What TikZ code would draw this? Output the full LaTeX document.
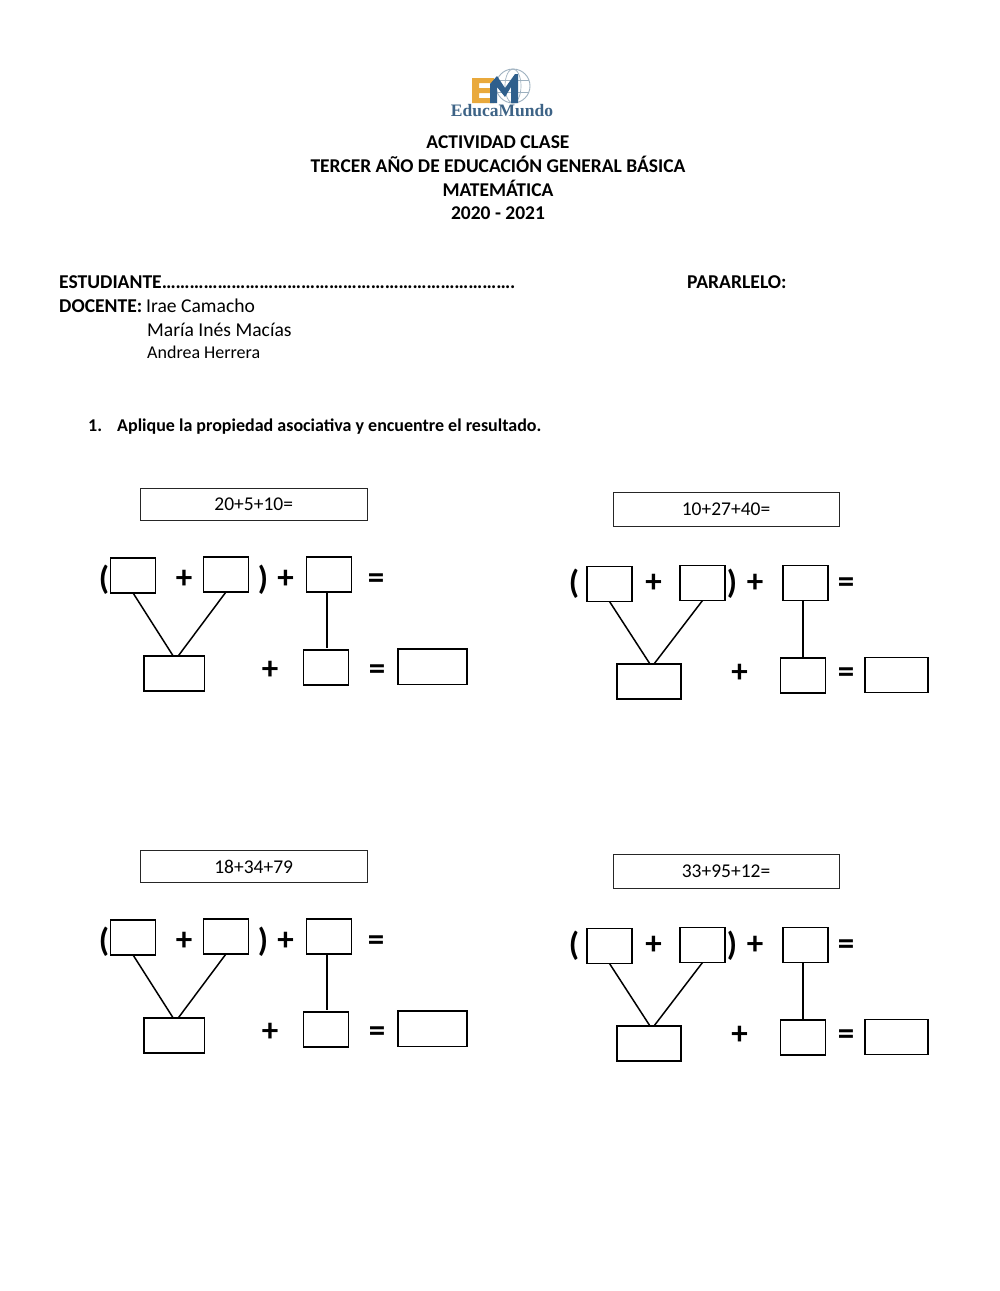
\documentclass[tikz,border=0pt]{standalone}
\usepackage{fontspec}
\setmainfont{Carlito}
\usetikzlibrary{calc}
\definecolor{logoE}{HTML}{E9A93C}
\definecolor{logoM}{HTML}{2F5F8C}
\definecolor{logoT}{HTML}{3D6386}
\definecolor{logoG}{HTML}{9DB0BF}
\tikzset{
  x=1pt,y=-1pt,
  answer/.style={draw=black,line width=1.5pt,fill=white,inner sep=0pt,outer sep=0pt},
  titlebox/.style={draw=black!85,line width=1pt,fill=white,inner sep=0pt,outer sep=0pt,font=\fontsize{19.5}{22}\selectfont},
  link/.style={draw=black,line width=1.5pt},
  sym/.style={inner sep=0pt,font=\bfseries\fontsize{33}{36}\selectfont},
  plussym/.style={sym,yshift=-2pt},
  eqsym/.style={sym,yshift=-4pt},
  parsym/.style={sym,yshift=-3pt},
  head/.style={anchor=base,inner sep=0pt,font=\bfseries\fontsize{19.5}{22}\selectfont},
  info/.style={anchor=base west,inner sep=0pt,font=\fontsize{19.6}{22}\selectfont},
  infob/.style={anchor=base west,inner sep=0pt,font=\bfseries\fontsize{19.6}{22}\selectfont},
  small/.style={anchor=base west,inner sep=0pt,font=\fontsize{18}{20}\selectfont},
  smallb/.style={anchor=base west,inner sep=0pt,font=\bfseries\fontsize{18}{20}\selectfont},
}
\newcommand{\groupL}[3]{%
\begin{scope}[yshift=-#3pt]
  \node[titlebox,minimum width=227,minimum height=32] (#1t) at (253.7,504.5) {#2};
  \node[answer,minimum width=45,minimum height=35] (#1a) at (133.2,575.7) {};
  \node[answer,minimum width=45,minimum height=35] (#1b) at (225.8,574.7) {};
  \node[answer,minimum width=45,minimum height=35] (#1c) at (329,574.7) {};
  \node[answer,minimum width=60.5,minimum height=35] (#1d) at (174.2,673.5) {};
  \node[answer,minimum width=45,minimum height=35] (#1e) at (326.2,667.3) {};
  \node[answer,minimum width=69,minimum height=35.5] (#1f) at (432.5,666.7) {};
  \draw[link] (#1a.south) -- ($(#1d.north)+(-1,0)$);
  \draw[link] (#1b.south) -- ($(#1d.north)+(4,0)$);
  \draw[link] ($(#1c.south -| #1e.north)+(1,0)$) -- ($(#1e.north)+(1,-1.5)$);
  \node[parsym] (#1p1) at (104,577) {(};
  \node[parsym] (#1p2) at (263,577) {)};
  \node[plussym] (#1s1) at (184,577) {+};
  \node[plussym] (#1s2) at (285.5,577) {+};
  \node[eqsym] (#1q1) at (376,577) {=};
  \node[plussym] (#1s3) at (270,668) {+};
  \node[eqsym] (#1q2) at (377,668) {=};
\end{scope}}
\newcommand{\groupR}[3]{%
\begin{scope}[yshift=-#3pt]
  \node[titlebox,minimum width=226,minimum height=34] (#1t) at (726,509.5) {#2};
  \node[answer,minimum width=45,minimum height=35] (#1a) at (609.5,584) {};
  \node[answer,minimum width=45,minimum height=35] (#1b) at (702.5,583) {};
  \node[answer,minimum width=45,minimum height=35] (#1c) at (805.5,583) {};
  \node[answer,minimum width=64,minimum height=35] (#1d) at (649,681.5) {};
  \node[answer,minimum width=45,minimum height=35] (#1e) at (803,675.7) {};
  \node[answer,minimum width=63,minimum height=35] (#1f) at (896.5,675.2) {};
  \draw[link] (#1a.south) -- ($(#1d.north)+(1,0)$);
  \draw[link] (#1b.south) -- ($(#1d.north)+(5,0)$);
  \draw[link] (#1c.south -| #1e.north) -- ($(#1e.north)+(0,-1.5)$);
  \node[parsym] (#1p1) at (574,581) {(};
  \node[parsym] (#1p2) at (732,581) {)};
  \node[plussym] (#1s1) at (653.5,581) {+};
  \node[plussym] (#1s2) at (755,581) {+};
  \node[eqsym] (#1q1) at (846,581) {=};
  \node[plussym] (#1s3) at (739.5,671) {+};
  \node[eqsym] (#1q2) at (846,671) {=};
\end{scope}}
\begin{document}
\begin{tikzpicture}
\useasboundingbox[fill=white] (0,0) rectangle (1000,1291);
% logo
\begin{scope}
  \clip (496,66) rectangle (540,104);
  \draw[logoG,line width=.9pt] (513,86) circle (17);
  \draw[logoG,line width=.7pt] (513,86) ellipse (8 and 17);
  \draw[logoG,line width=.7pt] (497,80) -- (529,80) (497,92) -- (529,92);
\end{scope}
\fill[logoE] (472,78) -- (494,78) -- (494,83) -- (479,83) -- (479,88) -- (491,88) -- (491,93) -- (479,93) -- (479,98) -- (494,98) -- (494,103) -- (472,103) -- cycle;
\fill[logoM] (490,84) -- (497,76) -- (505,88) -- (515,74) -- (518,74) -- (518,103) -- (511,103) -- (511,87) -- (505,97) -- (497,87) -- (497,103) -- (490,103) -- cycle;
\node[inner sep=0pt,anchor=base,text=logoT,font=\fontspec{Liberation Serif}\bfseries\fontsize{17.5}{19}\selectfont] (logotext) at (502,116) {EducaMundo};
% heading
\node[head] (h1) at (498,148) {ACTIVIDAD CLASE};
\node[head] (h2) at (498,172) {TERCER AÑO DE EDUCACIÓN GENERAL BÁSICA};
\node[head] (h3) at (498,196) {MATEMÁTICA};
\node[head] (h4) at (498,219) {2020 - 2021};
\node[infob] (est) at (59,288) {ESTUDIANTE\foreach \i in {1,...,25}{…}.};
\node[infob] (par) at (687,288) {PARARLELO:};
\node[infob] (doc) at (59,312) {DOCENTE:};
\node[info] (d1) at (146,312) {Irae Camacho};
\node[info] (d2) at (147,336) {María Inés Macías};
\node[small] (d3) at (147,358) {Andrea Herrera};
\node[smallb] (n1) at (88,431) {1.};
\node[smallb] (q1) at (117,431) {Aplique la propiedad asociativa y encuentre el resultado.};
% exercises
\groupL{A}{20+5+10=}{0}
\groupR{B}{10+27+40=}{0}
\groupL{C}{18+34+79}{362}
\groupR{D}{33+95+12=}{362}
\end{tikzpicture}
\end{document}
